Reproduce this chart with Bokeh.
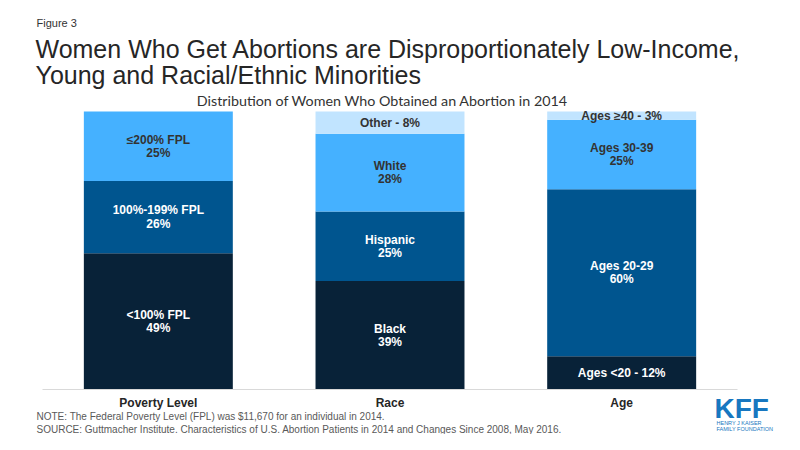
from bokeh.plotting import figure
from bokeh.models import ColumnDataSource, Range1d
from bokeh.core.properties import value
from bokeh.embed import file_html
from bokeh.resources import INLINE

categories = ["Poverty Level", "Race", "Age"]

poverty_labels = ["<100% FPL", "100%-199% FPL", "\u2264200% FPL"]
poverty_values = [49, 26, 25]

race_labels = ["Black", "Hispanic", "White", "Other"]
race_values = [39, 25, 28, 8]

age_labels = ["Ages <20", "Ages 20-29", "Ages 30-39", "Ages \u226540"]
age_values = [12, 60, 25, 3]

inline_segments = ["Other", "Ages <20", "Ages \u226540"]

level_colors = ["#082238", "#00558f", "#45b1ff", "#c1e4ff"]
level_text_colors = ["#ffffff", "#ffffff", "#333333", "#333333"]

title_line1 = "Women Who Get Abortions are Disproportionately Low-Income,"
title_line2 = "Young and Racial/Ethnic Minorities"
subtitle = "Distribution of Women Who Obtained an Abortion in 2014"
note = "NOTE: The Federal Poverty Level (FPL) was $11,670 for an individual in 2014."
source = "SOURCE: Guttmacher Institute.  Characteristics of U.S. Abortion Patients in 2014 and Changes Since 2008, May 2016."

W, H = 784, 434
# pixel geometry of the plotting area inside the canvas
X0, XPX = 42, 231.67      # left of category band, px per category
Y0, YPX = 389, 2.78       # baseline, px per percent

def xd(px):
    return (px - X0) / XPX

def yd(py):
    return (Y0 - py) / YPX

# build a table of segments
xs, bottoms, tops, colors, texts, tcolors, mids = [], [], [], [], [], [], []
for ci, (cat, labels, vals) in enumerate(zip(categories,
                             [poverty_labels, race_labels, age_labels],
                             [poverty_values, race_values, age_values])):
    cum = 0
    for i, (lab, v) in enumerate(zip(labels, vals)):
        xs.append(ci + 0.5)
        bottoms.append(cum)
        tops.append(cum + v)
        mids.append(cum + v / 2)
        colors.append(level_colors[i])
        tcolors.append(level_text_colors[i])
        if lab in inline_segments:
            texts.append(f"{lab} - {v}%")
        else:
            texts.append(f"{lab}\n{v}%")
        cum += v

src = ColumnDataSource(dict(x=xs, bottom=bottoms, top=tops, color=colors,
                            text=texts, tcolor=tcolors, mid=mids))

p = figure(width=W, height=H, output_backend="svg", toolbar_location=None,
           x_range=Range1d(xd(0), xd(W)), y_range=Range1d(yd(H), yd(0)),
           x_axis_location=None, y_axis_location=None,
           min_border=0, title=None)
p.outline_line_color = None
p.xgrid.visible = False
p.ygrid.visible = False
p.background_fill_color = "white"

p.vbar(x="x", bottom="bottom", top="top", width=0.643, fill_color="color",
       line_color=None, source=src)
p.text(x="x", y="mid", text="text", text_color="tcolor", source=src,
       text_font=value("Liberation Sans"), text_font_style="bold",
       text_font_size="12px", text_align="center", text_baseline="middle",
       text_line_height=0.95)

# baseline
p.segment(x0=[0], y0=[0], x1=[len(categories)], y1=[0], line_color="#d9d9d9",
          line_width=1)

# category labels
cat_src = ColumnDataSource(dict(x=[i + 0.5 for i in range(len(categories))],
                                y=[yd(402)] * len(categories), text=categories))
p.text(x="x", y="y", text="text", source=cat_src, text_color="#262626",
       text_font=value("Liberation Sans"), text_font_style="bold",
       text_font_size="12px", text_align="center", text_baseline="middle")

def add_text(text, px, py, size, color="#262626", font="Liberation Sans",
             style="normal", align="left"):
    p.text(x=[xd(px)], y=[yd(py)], text=[text], text_font=value(font),
           text_font_size=size, text_color=color, text_font_style=style,
           text_align=align, text_baseline="middle")

add_text("Figure 3", 36, 22, "11px", color="#333333")
add_text(title_line1, 35, 48, "25px", color="#262626")
add_text(title_line2, 35, 74, "25px", color="#262626")
add_text(subtitle, 382, 100, "14.3px", color="#333333", font="Lato", align="center")
add_text(note, 36, 416, "10px", color="#595959")
add_text(source, 36, 429, "10px", color="#595959")

add_text("KFF", 714, 408, "28px", color="#1777c0", style="bold")
add_text("HENRY J KAISER", 716, 422, "5.5px", color="#1777c0")
add_text("FAMILY FOUNDATION", 716, 428, "5.5px", color="#1777c0")

open("out.html", "w").write(file_html(p, INLINE))
